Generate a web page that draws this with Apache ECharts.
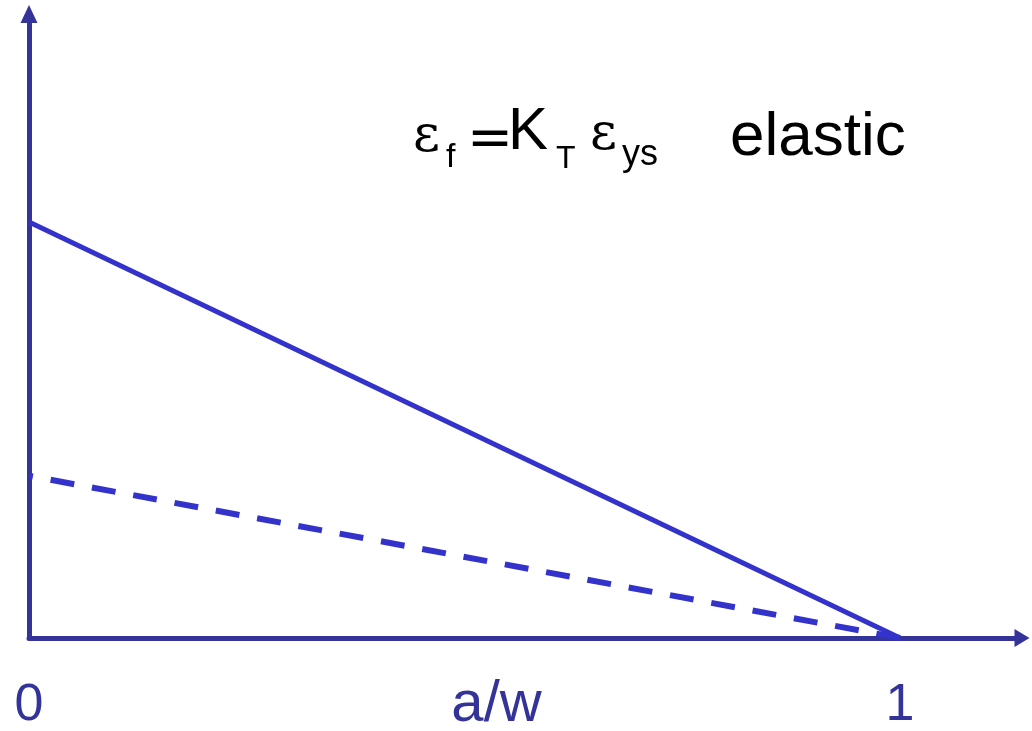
<!DOCTYPE html>
<html>
<head>
<meta charset="utf-8">
<script src="https://cdn.jsdelivr.net/npm/echarts@6/dist/echarts.min.js"></script>
<style>
  html, body { margin: 0; padding: 0; background: #fff; }
  #chart { width: 1032px; height: 731px; }
</style>
</head>
<body>
<div id="chart"></div>
<script>
// Relative crack depth a/w on the horizontal axis
const crackDepth = [0, 1];
// Failure strain, elastic case (solid) and the lower dashed reference line
const strainElastic = [1.0, 0];
const strainLower = [0.39, 0];
// Tick labels shown on the horizontal axis
const xTickValues = [0, 1];
const xTickLabels = { 0: '0', 1: '1' };

const axisColor = '#333399';
const lineColor = '#3333cc';
const sans = '"Liberation Sans", Arial, sans-serif';
const serif = '"DejaVu Serif", "Liberation Serif", serif';

const pairs = (xs, ys) => xs.map((x, i) => [x, ys[i]]);

const chart = echarts.init(document.getElementById('chart'), null, { renderer: 'canvas' });

chart.setOption({
  backgroundColor: '#ffffff',
  animation: false,
  grid: { left: 29, right: 10, top: 14, bottom: 93, containLabel: false, outerBoundsMode: 'none' },
  xAxis: {
    type: 'value',
    min: 0,
    max: 1.14,
    name: 'a/w',
    nameLocation: 'middle',
    nameGap: 67,
    nameMoveOverlap: false,
    nameTextStyle: {
      color: axisColor, fontSize: 58, fontFamily: sans,
      verticalAlign: 'middle', padding: [0, 58, 0, 0]
    },
    axisLine: {
      show: true, onZero: false,
      symbol: ['none', 'triangle'], symbolSize: [18, 15],
      lineStyle: { color: axisColor, width: 5 }
    },
    axisTick: { show: false },
    splitLine: { show: false },
    axisLabel: {
      customValues: xTickValues,
      formatter: v => xTickLabels[v] ?? '',
      color: axisColor, fontSize: 52, fontFamily: sans,
      margin: 68, verticalAlign: 'middle'
    }
  },
  yAxis: {
    type: 'value',
    min: 0,
    max: 1.5,
    axisLine: {
      show: true, onZero: false,
      symbol: ['none', 'triangle'], symbolSize: [17, 18],
      lineStyle: { color: axisColor, width: 5 }
    },
    axisTick: { show: false },
    splitLine: { show: false },
    axisLabel: { show: false }
  },
  series: [
    {
      type: 'line',
      data: pairs(crackDepth, strainElastic),
      symbol: 'none',
      lineStyle: { color: lineColor, width: 5 },
      z: 3
    },
    {
      type: 'line',
      data: pairs(crackDepth, strainLower),
      symbol: 'none',
      lineStyle: { color: lineColor, width: 6, type: [24, 18], dashOffset: 20 },
      z: 3
    }
  ],
  graphic: [
    { type: 'text', x: 413, y: 137, style: { text: 'ε', fontSize: 52, fontFamily: serif, fill: '#000', verticalAlign: 'middle' } },
    { type: 'text', x: 446, y: 158, style: { text: 'f', fontSize: 34, fontFamily: sans, fill: '#000', verticalAlign: 'middle' } },
    { type: 'text', x: 467, y: 142, style: { text: '=', fontSize: 55, fontFamily: '"DejaVu Sans", sans-serif', fill: '#000', verticalAlign: 'middle' } },
    { type: 'text', x: 508, y: 132, style: { text: 'K', fontSize: 60, fontFamily: sans, fill: '#000', verticalAlign: 'middle' } },
    { type: 'text', x: 556, y: 159, style: { text: 'T', fontSize: 32, fontFamily: sans, fill: '#000', verticalAlign: 'middle' } },
    { type: 'text', x: 590, y: 135, style: { text: 'ε', fontSize: 52, fontFamily: serif, fill: '#000', verticalAlign: 'middle' } },
    { type: 'text', x: 622, y: 155, style: { text: 'ys', fontSize: 36, fontFamily: sans, fill: '#000', verticalAlign: 'middle' } },
    { type: 'text', x: 730, y: 138, style: { text: 'elastic', fontSize: 62, fontFamily: sans, fill: '#000', verticalAlign: 'middle' } }
  ]
});
</script>
</body>
</html>
